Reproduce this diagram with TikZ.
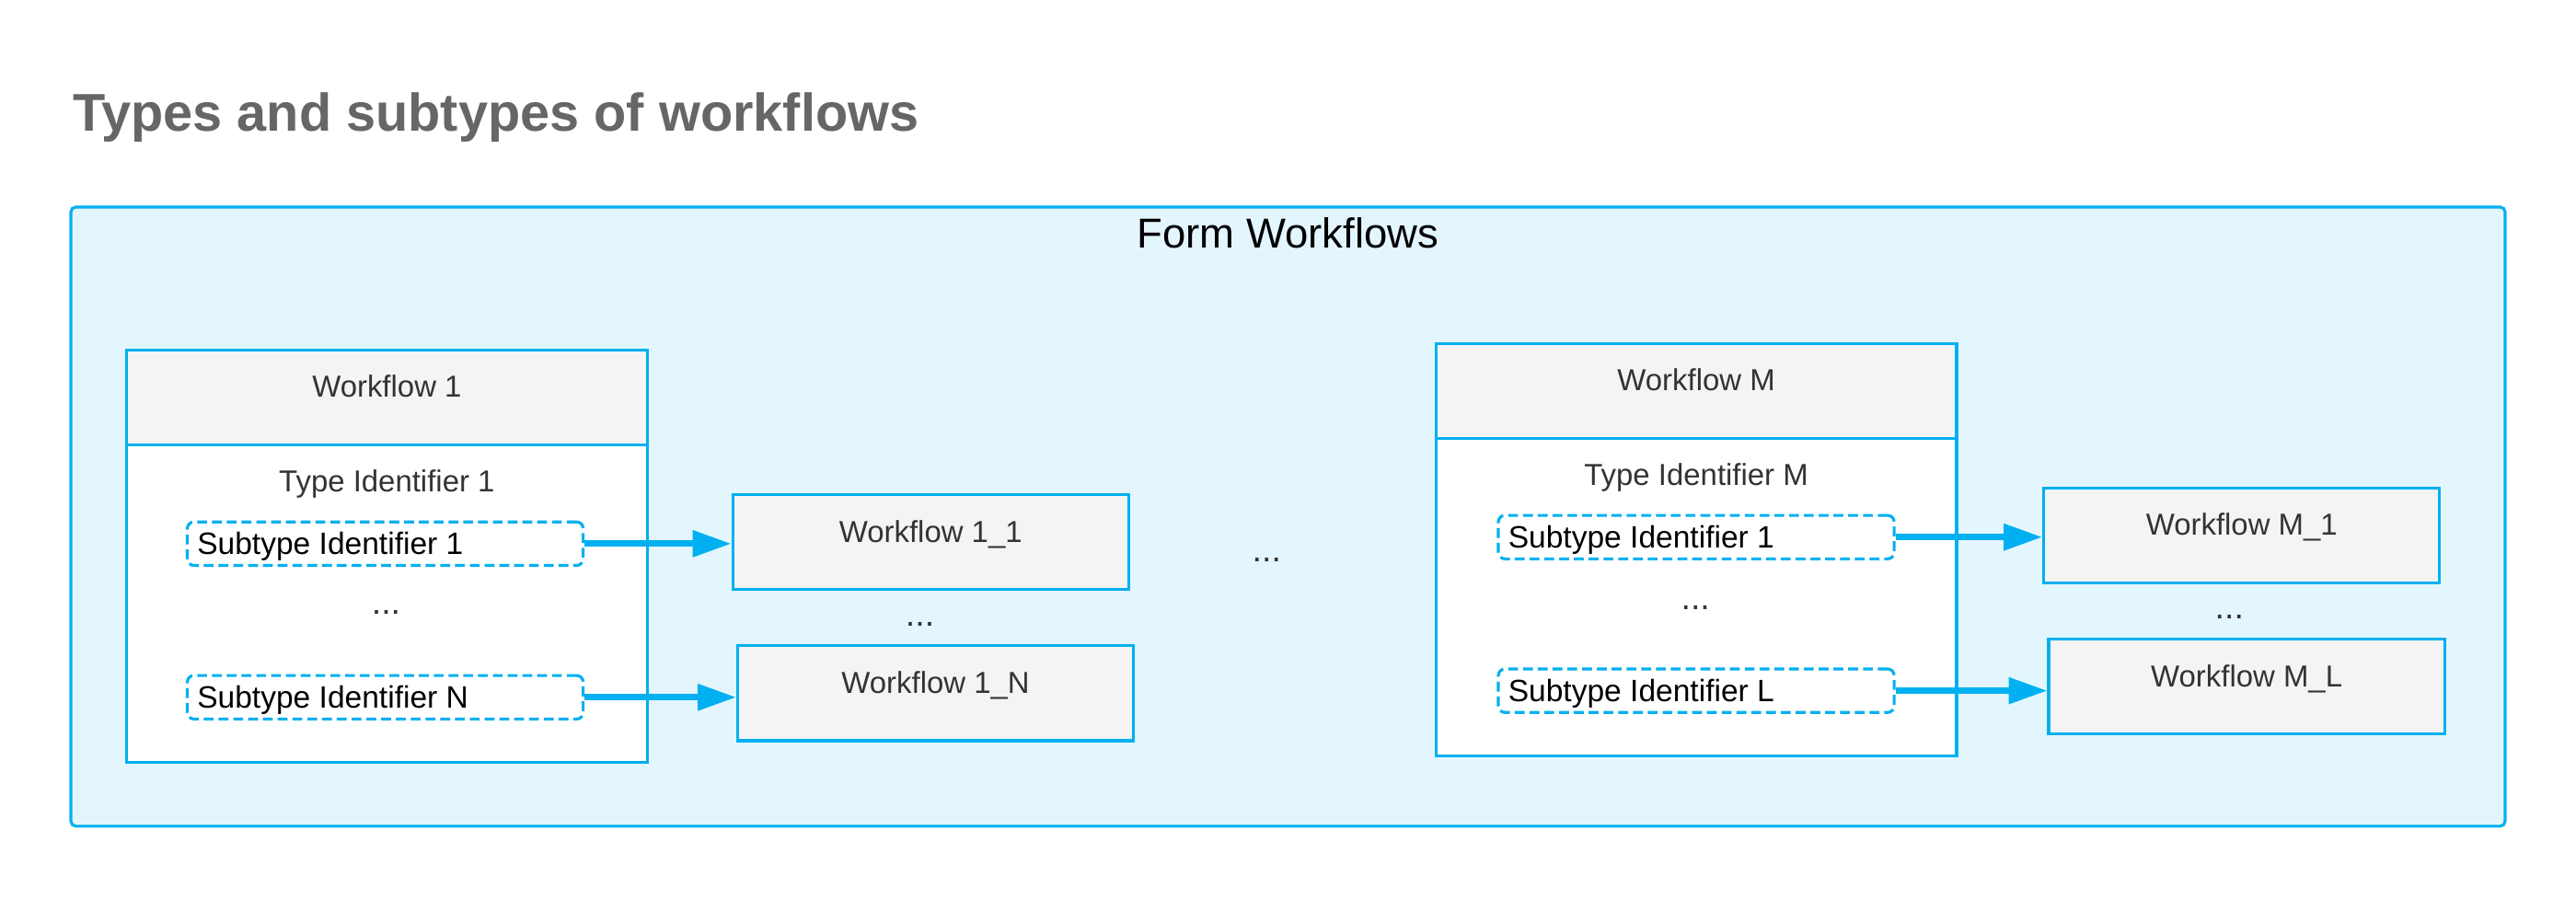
\documentclass[tikz,border=0pt]{standalone}
\usepackage{fontspec}
\setmainfont{Liberation Sans}
\usetikzlibrary{arrows.meta,calc}
\definecolor{wfblue}{HTML}{00B0F0}
\definecolor{wfback}{HTML}{E3F6FD}
\definecolor{wfgray}{HTML}{F4F4F4}
\definecolor{labgray}{HTML}{333333}
\definecolor{titlegray}{HTML}{666666}
\tikzset{
  formbox/.style={
    draw=wfblue,
    line width=1pt,
    fill=wfback,
    rounded corners=0.06cm,
    minimum width=29.64cm,
    minimum height=7.54cm,
    inner sep=0
  },
  typebox/.style={
    draw=wfblue,
    line width=1pt,
    fill=white,
    minimum width=6.34cm,
    minimum height=5.02cm,
    inner sep=0
  },
  typehead/.style={
    draw=wfblue,
    line width=1pt,
    fill=wfgray,
    minimum width=6.34cm,
    minimum height=1.16cm,
    inner sep=0,
    text height=0.3cm,
    text depth=0.3cm,
    text=labgray,
    font=\fontsize{10.5}{12}\selectfont
  },
  wfbox/.style={
    typehead,
    minimum width=4.82cm
  },
  subbox/.style={
    draw=wfblue,
    line width=1pt,
    dash pattern=on 0.12cm off 0.06cm,
    rounded corners=0.08cm,
    fill=white,
    minimum width=4.82cm,
    minimum height=0.53cm,
    inner xsep=0.12cm,
    inner ysep=0,
    text width=4.58cm,
    align=flush left,
    text height=0.27cm,
    text depth=0cm,
    font=\fontsize{10.7}{12}\selectfont
  },
  labtext/.style={
    text=labgray,
    inner sep=0,
    font=\fontsize{10.5}{12}\selectfont
  },
  dotstext/.style={
    labtext,
    anchor=base,
    font=\fontsize{12}{14}\selectfont
  },
  flow/.style={
    draw=wfblue,
    line width=2.2pt,
    -{Triangle[length=0.47cm,width=0.31cm]}
  }
}

\begin{document}
\begin{tikzpicture}[x=0.02cm,y=-0.02cm]
    \useasboundingbox (0,0) rectangle (1568,547);
    \node[anchor=base west, inner sep=0, text=titlegray, font=\fontsize{18.4}{22}\selectfont\bfseries] (title) at (44,80) {Types and subtypes of workflows};
    \node[formbox] (forms) at (784,314.5) {};
    \node[anchor=base, inner sep=0, font=\fontsize{14.5}{17}\selectfont] (formtitle) at (784,151) {Form Workflows};
    % type 1
    \node[typebox] (type1) at (235.5,338.5) {};
    \node[typehead] (type1head) at (235.5,242) {Workflow 1};
    \node[labtext, anchor=base] (type1id) at (235.5,299.5) {Type Identifier 1};
    \node[subbox] (sub11) at (234.5,331) {Subtype Identifier 1};
    \node[dotstext] (sub1dots) at (235,374) {...};
    \node[subbox] (sub1n) at (234.5,424.5) {Subtype Identifier N};
    \node[wfbox] (wf11) at (566.5,330) {Workflow 1\_1};
    \node[dotstext] (wf1dots) at (560,381) {...};
    \node[wfbox] (wf1n) at (569.5,422) {Workflow 1\_N};
    \draw[flow] (sub11.east) -- (sub11.east -| wf11.west);
    \draw[flow] (sub1n.east) -- (sub1n.east -| wf1n.west);
    \node[dotstext] (middots) at (771,342) {...};
    % type M
    \node[typebox] (typem) at (1032.5,334.5) {};
    \node[typehead] (typemhead) at (1032.5,238) {Workflow M};
    \node[labtext, anchor=base] (typemid) at (1032.5,295.5) {Type Identifier M};
    \node[subbox] (subm1) at (1032.5,327) {Subtype Identifier 1};
    \node[dotstext] (submdots) at (1032,371) {...};
    \node[subbox] (subml) at (1032.5,420.5) {Subtype Identifier L};
    \node[wfbox] (wfm1) at (1364.5,326) {Workflow M\_1};
    \node[dotstext] (wfmdots) at (1357,377) {...};
    \node[wfbox] (wfml) at (1367.5,418) {Workflow M\_L};
    \draw[flow] (subm1.east) -- (subm1.east -| wfm1.west);
    \draw[flow] (subml.east) -- (subml.east -| wfml.west);
\end{tikzpicture}
\end{document}
